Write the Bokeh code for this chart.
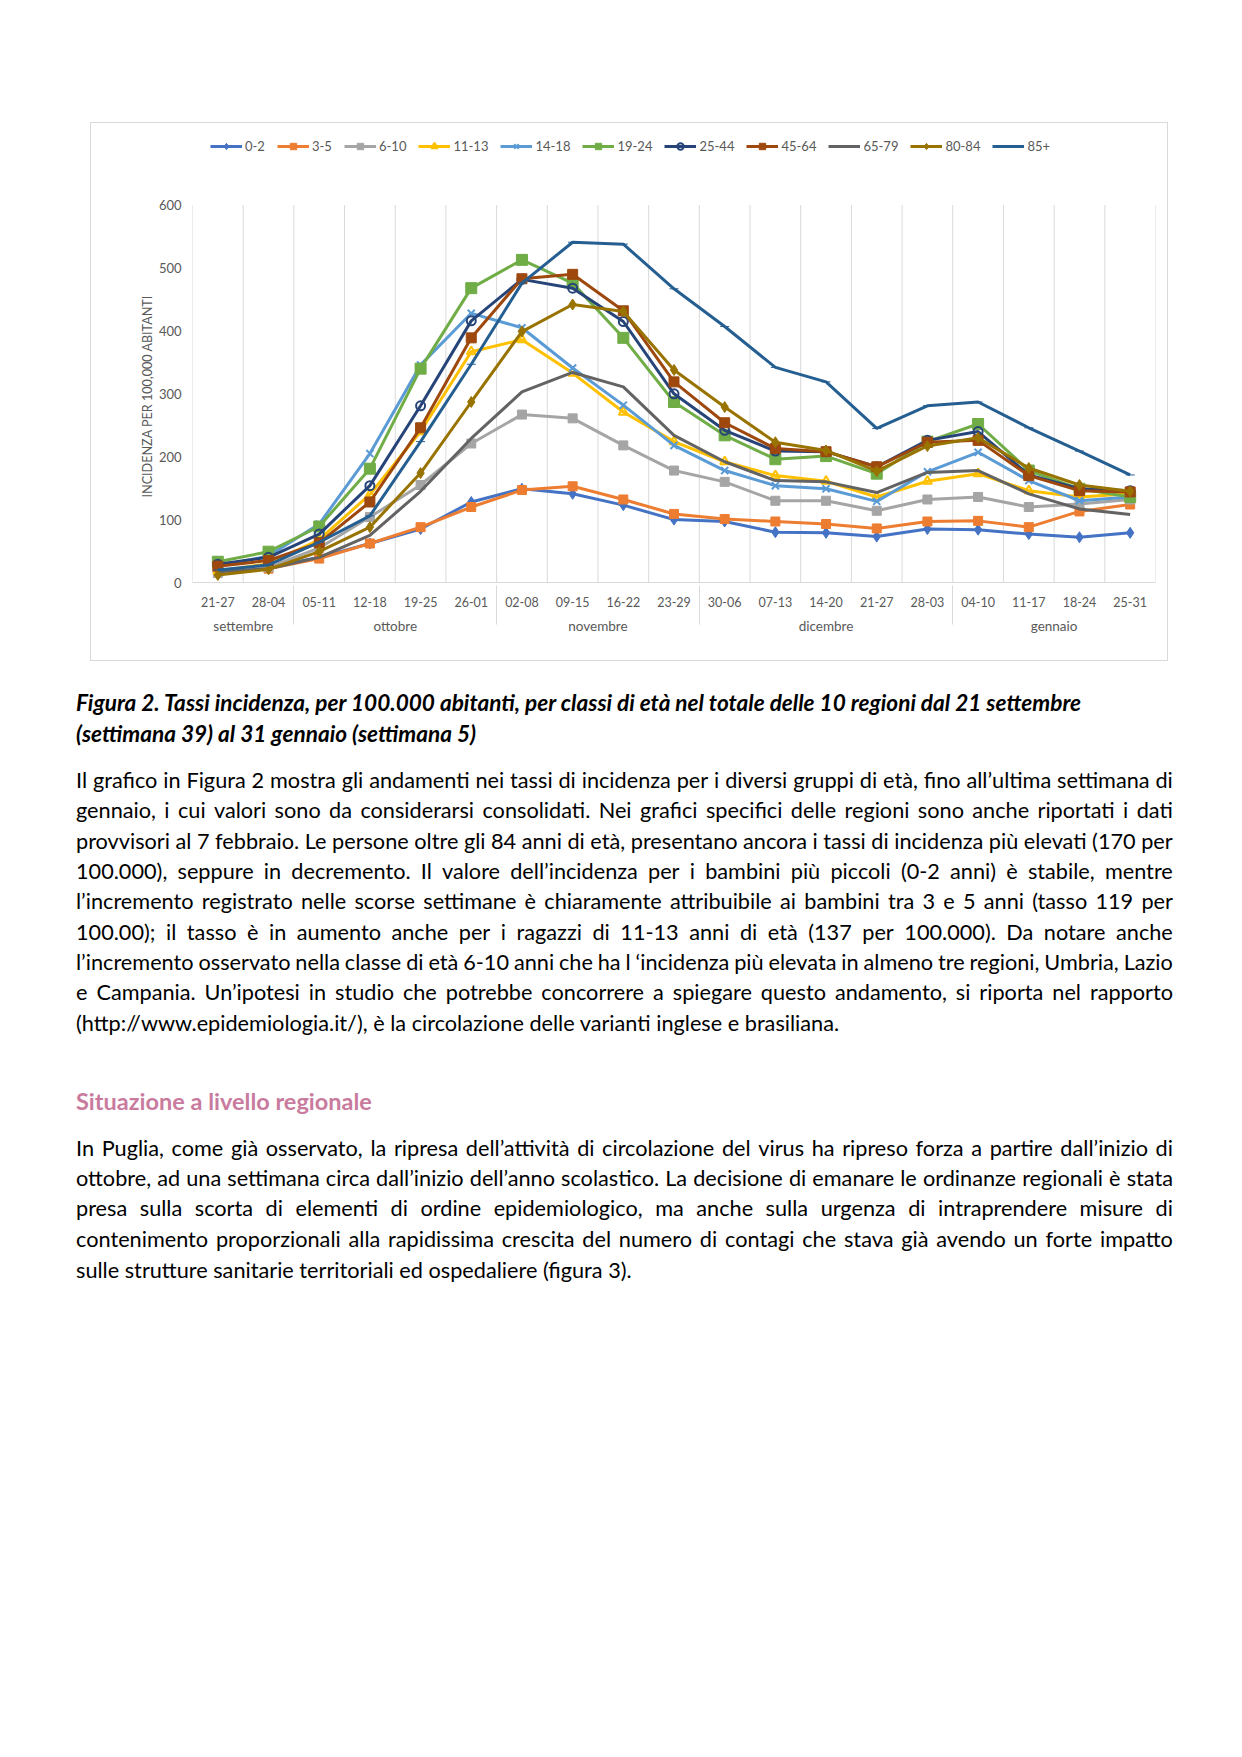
from bokeh.plotting import figure
from bokeh.models import FactorRange, Legend, LegendItem, Div, Spacer, ColumnDataSource, Title
from bokeh.layouts import column, row
from bokeh.embed import file_html
from bokeh.resources import INLINE

weeks = ["21-27", "28-04", "05-11", "12-18", "19-25", "26-01", "02-08", "09-15", "16-22",
         "23-29", "30-06", "07-13", "14-20", "21-27", "28-03", "04-10", "11-17", "18-24", "25-31"]
months = ["settembre"] * 2 + ["ottobre"] * 4 + ["novembre"] * 4 + ["dicembre"] * 5 + ["gennaio"] * 4
y_ticks = [0, 100, 200, 300, 400, 500, 600]

labels = ["0-2", "3-5", "6-10", "11-13", "14-18", "19-24", "25-44", "45-64", "65-79", "80-84", "85+"]
s_0_2 = [19, 24, 40, 62, 85, 128, 149, 141, 123, 100, 97, 80, 79, 73, 85, 84, 77, 72, 79]
s_3_5 = [20, 22, 38, 62, 88, 120, 147, 153, 132, 109, 101, 97, 93, 86, 97, 98, 88, 113, 124]
s_6_10 = [15, 24, 55, 104, 155, 221, 267, 261, 218, 178, 160, 130, 130, 114, 132, 136, 120, 125, 132]
s_11_13 = [18, 30, 68, 140, 240, 367, 386, 333, 271, 224, 192, 170, 161, 136, 161, 173, 146, 136, 141]
s_14_18 = [26, 42, 93, 205, 346, 428, 405, 341, 282, 218, 178, 154, 149, 129, 176, 207, 162, 130, 136]
s_19_24 = [33, 49, 89, 181, 340, 468, 513, 476, 389, 287, 234, 196, 201, 173, 224, 252, 178, 149, 136]
s_25_44 = [29, 40, 77, 154, 281, 416, 482, 468, 415, 300, 242, 209, 208, 184, 226, 240, 171, 149, 146]
s_45_64 = [26, 35, 63, 128, 246, 389, 483, 490, 432, 319, 254, 213, 208, 184, 223, 226, 170, 146, 144]
s_65_79 = [17, 22, 40, 75, 145, 229, 303, 334, 311, 234, 192, 162, 160, 143, 175, 178, 141, 117, 108]
s_80_84 = [12, 21, 49, 88, 174, 287, 399, 442, 431, 338, 279, 223, 210, 177, 217, 230, 182, 155, 145]
s_85 = [20, 28, 64, 106, 224, 347, 476, 541, 538, 467, 407, 342, 319, 245, 281, 287, 246, 209, 171]

values = [s_0_2, s_3_5, s_6_10, s_11_13, s_14_18, s_19_24, s_25_44, s_45_64, s_65_79, s_80_84, s_85]
colors = ["#4472C4", "#ED7D31", "#A5A5A5", "#FFC000", "#5B9BD5", "#70AD47",
          "#264478", "#9E480E", "#636363", "#997300", "#255E91"]
# marker, size, filled
markers = [("diamond", 11, True), ("square", 9, True), ("square", 9, True), ("triangle", 9, False),
           ("x", 10, False), ("square", 11, True), ("circle", 9, False), ("square", 10, True),
           (None, 0, True), ("diamond", 11, True), ("dash", 9, True)]

FONT = "Lato"
TXT = "#595959"

# geometry (pixels) of the chart box and plot area
FIG_W, FIG_H = 1078, 539          # border-box, border included
ML, MR, MT, MB = 101, 14, 3, 80
DATA_H = 375.7                    # pixel height of the 0..600 data area
frame_h = FIG_H - 2 - MT - MB
y_top = y_ticks[-1] * frame_h / DATA_H

factors = list(zip(months, weeks))
xr = FactorRange(*factors, factor_padding=0, subgroup_padding=0, group_padding=0, range_padding=0)

p = figure(x_range=xr, y_range=(0, y_top), width=FIG_W, height=FIG_H, title=None,
           output_backend="svg", toolbar_location=None,
           min_border_left=ML, min_border_right=MR, min_border_top=MT, min_border_bottom=MB)
p.outline_line_color = None
p.xgrid.visible = False
p.ygrid.visible = False
p.styles = {"border": "1px solid #D9D9D9"}

# vertical gridlines at category boundaries, up to the top tick
bounds = list(range(len(weeks) + 1))
p.segment(x0=bounds, y0=[y_ticks[0]] * len(bounds), x1=bounds, y1=[y_ticks[-1]] * len(bounds),
          line_color="#D9D9D9", line_width=1, level="underlay")

items = []
for name, vals, col, (mk, sz, filled) in zip(labels, values, colors, markers):
    src = ColumnDataSource(dict(x=factors, y=vals))
    rs = [p.line("x", "y", source=src, line_color=col, line_width=3)]
    if mk:
        rs.append(p.scatter("x", "y", source=src, marker=mk, size=sz,
                            fill_color=col if filled else None, line_color=col,
                            line_width=2 if not filled else 1))
    items.append(LegendItem(label=name, renderers=rs))

legend = Legend(items=items, orientation="horizontal", location=(18, 428),
                glyph_width=32, glyph_height=16, label_height=16, label_standoff=3,
                spacing=12, padding=0, margin=0, border_line_color=None,
                background_fill_alpha=0, label_text_font=FONT, label_text_font_size="13px",
                label_text_color=TXT)
p.add_layout(legend, "center")

p.yaxis.ticker = y_ticks
p.yaxis.axis_line_color = None
p.yaxis.major_tick_line_color = None
p.yaxis.minor_tick_line_color = None
p.yaxis.major_label_standoff = 5
p.yaxis.major_label_text_font = FONT
p.yaxis.major_label_text_font_size = "13px"
p.yaxis.major_label_text_color = TXT

# y-axis title, centred on the 0..600 data area
ytitle = Title(text="INCIDENZA PER 100,000 ABITANTI", align="left", offset=85,
               vertical_align="middle", standoff=0, text_font=FONT, text_font_size="12.6px",
               text_font_style="normal", text_color=TXT)
p.add_layout(ytitle, "left")

p.xaxis.axis_line_color = "#D9D9D9"
p.xaxis.major_tick_line_color = None
p.xaxis.minor_tick_line_color = None
p.xaxis.major_label_standoff = 8
p.xaxis.major_label_text_font = FONT
p.xaxis.major_label_text_font_size = "12.5px"
p.xaxis.major_label_text_color = TXT
p.xaxis.group_text_font = FONT
p.xaxis.group_text_font_size = "13.5px"
p.xaxis.group_text_color = TXT
p.xaxis.group_text_font_style = "normal"
p.xaxis.separator_line_color = "#D9D9D9"
p.xaxis.separator_line_width = 1

# ---- text below the chart ----
caption = ["Figura 2. Tassi incidenza, per 100.000 abitanti, per classi di età nel totale delle 10 regioni dal 21 settembre",
           "(settimana 39) al 31 gennaio (settimana 5)"]
para1 = ["Il grafico in Figura 2 mostra gli andamenti nei tassi di incidenza per i diversi gruppi di età, fino all’ultima settimana di",
         "gennaio, i cui valori sono da considerarsi consolidati. Nei grafici specifici delle regioni sono anche riportati i dati",
         "provvisori al 7 febbraio. Le persone oltre gli 84 anni di età, presentano ancora i tassi di incidenza più elevati (170 per",
         "100.000), seppure in decremento. Il valore dell’incidenza per i bambini più piccoli (0-2 anni) è stabile, mentre",
         "l’incremento registrato nelle scorse settimane è chiaramente attribuibile ai bambini tra 3 e 5 anni (tasso 119 per",
         "100.00); il tasso è in aumento anche per i ragazzi di 11-13 anni di età (137 per 100.000). Da notare anche",
         "l’incremento osservato nella classe di età 6-10 anni che ha l ‘incidenza più elevata in almeno tre regioni, Umbria, Lazio",
         "e Campania. Un’ipotesi in studio che potrebbe concorrere a spiegare questo andamento, si riporta nel rapporto",
         "(http://www.epidemiologia.it/), è la circolazione delle varianti inglese e brasiliana."]
heading = "Situazione a livello regionale"
para2 = ["In Puglia, come già osservato, la ripresa dell’attività di circolazione del virus ha ripreso forza a partire dall’inizio di",
         "ottobre, ad una settimana circa dall’inizio dell’anno scolastico. La decisione di emanare le ordinanze regionali è stata",
         "presa sulla scorta di elementi di ordine epidemiologico, ma anche sulla urgenza di intraprendere misure di",
         "contenimento proporzionali alla rapidissima crescita del numero di contagi che stava già avendo un forte impatto",
         "sulle strutture sanitarie territoriali ed ospedaliere (figura 3)."]

DIV_TOP = 661
LEFT = 76
WIDTH = 1097
BODY = 21.7


def line_html(text, center, justify, size, extra=""):
    top = center - DIV_TOP - 15
    if justify:
        inner = "".join(f"<span>{w}</span>" for w in text.split(" "))
        disp = "display:flex;justify-content:space-between;"
    else:
        inner = text
        disp = ""
    return (f'<div style="position:absolute;left:{LEFT}px;top:{top:.1f}px;width:{WIDTH}px;height:30px;'
            f'line-height:30px;white-space:nowrap;font-size:{size}px;{disp}{extra}">{inner}</div>')


parts = []
for t, c in zip(caption, [703, 734]):
    parts.append(line_html(t, c, False, 22.6, "font-weight:bold;font-style:italic;"))
p1_centers = [780.2, 810.4, 840.7, 871.0, 901.2, 931.5, 961.7, 992.0, 1022.8]
for k, (t, c) in enumerate(zip(para1, p1_centers)):
    parts.append(line_html(t, c, k < len(para1) - 1, BODY))
parts.append(line_html(heading, 1100.7, False, 23.5, "font-weight:bold;color:#C97B9E;"))
p2_centers = [1147.8, 1177.5, 1208.0, 1238.6, 1269.5]
for k, (t, c) in enumerate(zip(para2, p2_centers)):
    parts.append(line_html(t, c, k < len(para2) - 1, BODY))

html = ('<div style="position:relative;width:1234px;height:1080px;font-family:Lato,sans-serif;color:#000;">'
        + "".join(parts) + "</div>")
div = Div(text=html, width=1234, height=1080, margin=(0, 0, 0, 0))

layout = column(Spacer(width=1234, height=122),
                row(Spacer(width=90, height=539), p, spacing=0),
                div, spacing=0)

open("out.html", "w").write(file_html(layout, INLINE))
